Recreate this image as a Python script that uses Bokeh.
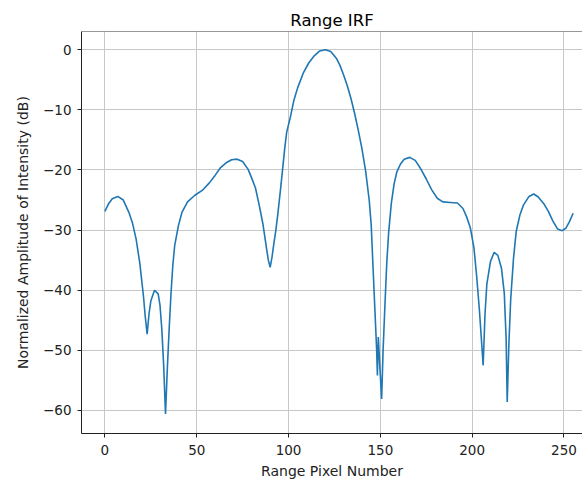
from bokeh.plotting import figure
from bokeh.models import FixedTicker, Span, Range1d
from bokeh.embed import file_html
from bokeh.resources import INLINE

pixel = [0, 2, 4, 7, 10, 13, 15, 17, 19, 21, 22, 23, 24, 25, 27, 29, 30, 31, 32, 33,
         34, 35, 36, 37, 38, 40, 42, 45, 49, 53, 57, 60, 63, 66, 69, 72, 75, 78, 80, 82,
         84, 86, 88, 89, 90, 91, 92, 93, 94, 95, 96, 97, 98, 99, 101, 103, 105, 108, 111, 114,
         117, 120, 123, 126, 128, 130, 132, 134, 136, 138, 140, 142, 144, 145, 146, 147, 148, 148.4, 148.9, 149.6,
         150.7, 151.5, 152.5, 153.5, 154.5, 156, 157.5, 159, 161, 163, 166, 169, 172, 175, 178, 181, 184, 188, 192, 195,
         197, 199, 201, 202.5, 204, 205, 206, 207, 208, 210, 212, 214, 216, 217.5, 218.5, 219.1, 220, 221, 222.5, 224,
         226, 228, 231, 233.5, 236, 239, 241.5, 244, 246.5, 249, 251, 253, 255]
irf_db = [-26.9, -25.6, -24.8, -24.4, -25.0, -27.0, -28.8, -31.5, -35.5, -41.0, -44.5, -47.3, -44.0, -41.8, -40.0, -40.6, -42.5, -46.5, -52.5, -60.6,
          -53.0, -46.4, -40.5, -35.8, -32.6, -29.3, -27.0, -25.3, -24.2, -23.4, -22.1, -20.9, -19.6, -18.8, -18.3, -18.2, -18.6, -19.9, -21.4, -23.0,
          -25.8, -28.9, -33.0, -35.0, -36.2, -34.5, -32.3, -30.2, -27.8, -25.0, -22.2, -19.2, -16.2, -13.7, -11.2, -8.3, -6.3, -3.9, -2.2, -1.0,
          -0.2, 0.0, -0.3, -1.4, -2.6, -4.2, -6.0, -8.1, -10.6, -13.4, -16.5, -20.2, -25.2, -29.0, -36.0, -43.0, -50.0, -54.2, -47.8, -52.0,
          -58.1, -50.0, -42.5, -35.5, -30.5, -25.5, -22.3, -20.3, -19.0, -18.2, -17.9, -18.4, -19.8, -21.5, -23.3, -24.7, -25.3, -25.4, -25.5, -26.4,
          -27.8, -29.6, -33.0, -37.8, -43.5, -48.0, -52.5, -44.0, -39.0, -35.2, -33.7, -34.2, -36.4, -40.5, -48.0, -58.6, -49.0, -41.5, -34.8, -30.2,
          -27.5, -25.8, -24.4, -24.0, -24.5, -25.6, -26.9, -28.5, -29.8, -30.1, -29.7, -28.6, -27.2]

x_ticks = [0, 50, 100, 150, 200, 250]
y_ticks = [-60, -50, -40, -30, -20, -10, 0]
y_tick_labels = {t: (("\u2212" + str(-t)) if t < 0 else str(t)) for t in y_ticks}

FONT = "DejaVu Sans"

p = figure(frame_width=501, frame_height=402, output_backend="svg", toolbar_location=None,
           x_range=Range1d(-12.75, 260.1), y_range=Range1d(-63.84, 3.04),
           min_border_left=81, min_border_right=0, min_border_top=31, min_border_bottom=46)
p.title.text = "Range IRF"
p.title.text_font = FONT
p.title.text_font_size = "16.5px"
p.title.text_font_style = "normal"
p.title.align = "center"
p.title.offset = 7
p.title.standoff = 4
p.title.text_color = "#000000"

p.line(pixel, irf_db, line_color="#1f77b4", line_width=1.6)

p.outline_line_color = None
p.add_layout(Span(location=3.04, dimension="width", line_color="#333333", line_width=1))

for ax in (p.xaxis[0], p.yaxis[0]):
    ax.axis_line_color = "#222222"
    ax.axis_line_width = 1
    ax.major_tick_line_color = "#222222"
    ax.major_tick_out = 4
    ax.major_tick_in = 0
    ax.minor_tick_line_color = None
    ax.major_label_text_font = FONT
    ax.major_label_text_font_size = "13.5px"
    ax.major_label_text_color = "#222222"
    ax.axis_label_text_font = FONT
    ax.axis_label_text_font_size = "14px"
    ax.axis_label_text_font_style = "normal"
    ax.axis_label_text_color = "#222222"

p.xaxis.ticker = FixedTicker(ticks=x_ticks)
p.yaxis.ticker = FixedTicker(ticks=y_ticks)
p.yaxis.major_label_overrides = y_tick_labels
p.xaxis.axis_label = "Range Pixel Number"
p.yaxis.axis_label = "Normalized Amplitude of Intensity (dB)"
p.xaxis.major_label_standoff = 7
p.yaxis.major_label_standoff = 6
p.xaxis.axis_label_standoff = 5
p.yaxis.axis_label_standoff = 9

p.xgrid.ticker = FixedTicker(ticks=x_ticks)
p.ygrid.ticker = FixedTicker(ticks=y_ticks)
p.grid.grid_line_color = "#c8c8c8"
p.grid.grid_line_width = 1

open("out.html", "w").write(file_html(p, INLINE))
